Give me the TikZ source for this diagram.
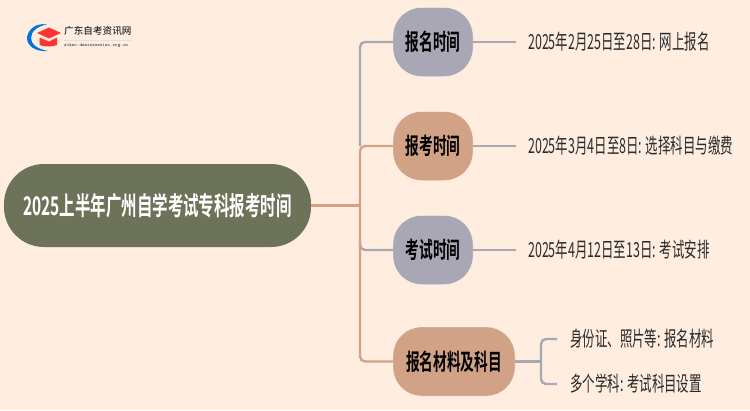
\documentclass[tikz,border=0pt]{standalone}
\usepackage{fontspec}
\newfontfamily\cjk[FakeStretch = 0.6]{Noto Sans CJK SC}
\newfontfamily\cjkb[FakeStretch = 0.6]{Noto Sans CJK SC Bold}
\newfontfamily\cjklogo{Noto Sans CJK SC Medium}
\definecolor{paper}{HTML}{FFEEE0}
\definecolor{olive}{HTML}{6C7359}
\definecolor{slate}{HTML}{A8A7B6}
\definecolor{clay}{HTML}{D2A287}
\definecolor{ink}{HTML}{2A2A2A}
\tikzset{
    hub/.style = {fill = olive, rounded corners = 1.2cm, minimum width = 9.21cm, minimum height = 2.49cm, inner sep = 0pt, text = white, font = \cjkb\fontsize{22}{22}\selectfont},
    topic/.style = {rounded corners = 0.85cm, minimum height = 2.07cm, inner sep = 0pt, font = \cjkb\fontsize{19.5}{19.5}\selectfont, text = black, draw = paper!50!white, line width = 0.3pt},
    leaf/.style = {anchor = west, inner sep = 0pt, text = ink, font = \cjk\fontsize{17.7}{17.7}\selectfont},
    slateline/.style = {draw = slate, line width = 2pt, rounded corners = 0.15cm},
    clayline/.style = {draw = clay, line width = 2pt, rounded corners = 0.15cm}
}
\begin{document}
\begin{tikzpicture}[x = 0.03cm, y = -0.03cm]
    \path [fill = paper] (0, 0) rectangle (750, 410);
    \useasboundingbox (0, 0) rectangle (750, 410);
    % logo
    \fill [color = blue!50!cyan!90!black] (47, 24.5) .. controls (33, 22) and (27, 33) .. (27, 38) .. controls (27, 45) and (34, 52) .. (48, 51) .. controls (37, 49) and (31, 44) .. (31, 38) .. controls (31, 31) and (38, 26) .. (47, 24.5);
    \fill [color = red!80!white] (37, 33) -- (49, 27.5) -- (61, 33) -- (49, 38.5) -- cycle;
    \fill [color = red!80!white] (39.5, 37.5) -- (49, 41.5) -- (57, 37.5) -- (57, 45) .. controls (52, 47) and (45, 47) .. (39.5, 45) -- cycle;
    \node [anchor = west, inner sep = 0pt, text = ink] (brand) at (64, 31) {\cjklogo\fontsize{8.2}{8.2}\selectfont 广东自考资讯网};
    \node [anchor = west, inner sep = 0pt, text = ink] (site) at (64, 46) {\ttfamily\fontsize{4.1}{4.1}\selectfont zikao.daniuxuexiao.org.cn};
    \draw [color = black!12, line width = 0.3pt] (brand.west |- 0, 40) -- (131, 40);

    \node [hub] (root) at (157.5, 205.5) {2025上半年广州自学考试专科报考时间};
    \node [topic, fill = slate, minimum width = 2.4cm] (signup) at (433, 42) {报名时间};
    \node [topic, fill = clay, minimum width = 2.4cm] (apply) at (433, 146) {报考时间};
    \node [topic, fill = slate, minimum width = 2.4cm] (exam) at (433, 250) {考试时间};
    \node [topic, fill = clay, minimum width = 3.66cm] (material) at (454, 361.5) {报名材料及科目};

    \node [leaf] (signupnote) at (528, 42) {2025年2月25日至28日: 网上报名};
    \node [leaf] (applynote) at (528, 146) {2025年3月4日至8日: 选择科目与缴费};
    \node [leaf] (examnote) at (528, 250) {2025年4月12日至13日: 考试安排};
    \node [leaf] (idnote) at (570, 339) {身份证、照片等: 报名材料};
    \node [leaf] (subjectnote) at (570, 384) {多个学科: 考试科目设置};

    \coordinate (trunk) at (360, 205.5);
    \coordinate (fork) at (541, 361.5);
    \coordinate (signupend) at (516, 42);
    \coordinate (applyend) at (516, 146);
    \coordinate (examend) at (516, 250);
    \coordinate (idend) at (557, 339);
    \coordinate (subjectend) at (557, 384);

    \draw [slateline] (trunk |- apply.west) |- (signup.west);
    \draw [slateline] (360, 240) |- (exam.west);
    \draw [clayline] (trunk) |- (apply.west);
    \draw [clayline] (trunk) |- (material.west);
    \draw [clayline] (root.east) -- (trunk);
    \draw [slateline] (signup.east) -- (signupend);
    \draw [slateline] (apply.east) -- (applyend);
    \draw [slateline] (exam.east) -- (examend);
    \draw [slateline] (material.east) -- (fork);
    \draw [slateline] (idend) -| (fork) |- (subjectend);
\end{tikzpicture}
\end{document}
